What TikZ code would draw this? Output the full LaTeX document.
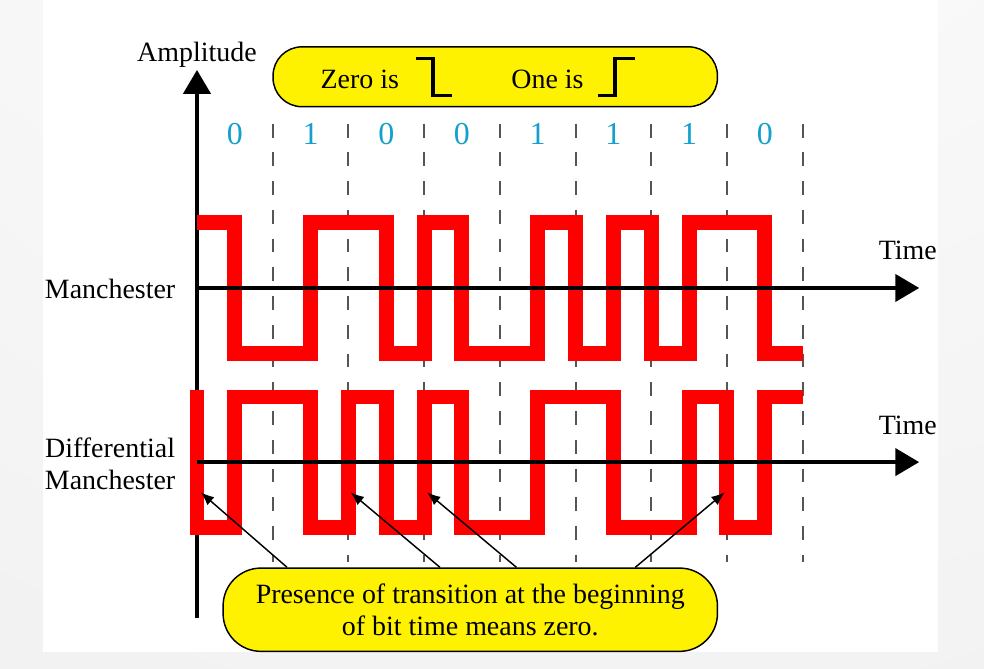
\documentclass[tikz,border=0pt]{standalone}
\usepackage{fontspec}
\setmainfont{Liberation Serif}
\usetikzlibrary{arrows.meta,calc}
\definecolor{bitblue}{RGB}{20,160,205}
\definecolor{dashgray}{RGB}{85,85,85}

\begin{document}
\begin{tikzpicture}[every node/.style={font=\fontsize{10.5}{12}\selectfont,inner sep=0pt},
 wave/.style={red,line width=5.6pt,line join=miter},
 axis/.style={line width=1.5pt,-{Triangle[length=9pt,width=10.2pt]}},
 bitline/.style={dashgray,line width=0.75pt,dash pattern=on 5.2pt off 5.6pt},
 bitlbl/.style={anchor=base,text=bitblue,font=\fontsize{12}{14}\selectfont},
 callout/.style={draw,line width=0.55pt,fill=yellow},
 edgesym/.style={line width=1.3pt,line join=miter},
 pointer/.style={line width=0.55pt,-{Latex[length=5pt,width=4pt]}}]
\useasboundingbox (-2.602,-5.020) rectangle (10.396,3.804);
\fill[inner color=white,outer color=gray!20] (-27,-22) rectangle (37,42);
\fill[white] (-2.034,-4.808) rectangle (9.789,3.804);
\foreach \x in {1,...,8}{
 \draw[bitline] (\x,2.17) -- (\x,-3.62);
}
\foreach \b [count=\i from 0] in {0,1,0,0,1,1,1,0}{
 \node[bitlbl] (bit\i) at (\i+0.5,1.89) {\b};
}
\draw[axis] (0,-4.36) -- (0,2.88);
\node[anchor=base] (amp) at (0,2.99) {Amplitude};
\draw[wave] (0,0.86) -| (0.5,-0.86) -| (1.5,0.86) -| (2.5,-0.86) -| (3,0.86) -| (3.5,-0.86)
 -| (4.5,0.86) -| (5,-0.86) -| (5.5,0.86) -| (6,-0.86) -| (6.5,0.86) -| (7.5,-0.86) -- (8,-0.86);
\draw[wave] (0,-1.35) -- (0,-3.16) -| (0.5,-1.44) -| (1.5,-3.16) -| (2,-1.44) -| (2.5,-3.16)
 -| (3,-1.44) -| (3.5,-3.16) -| (4.5,-1.44) -| (5.5,-3.16) -| (6.5,-1.44) -| (7,-3.16) -| (7.5,-1.44) -- (8,-1.44);
\draw[axis] (0,0) -- (9.54,0);
\draw[axis] (0,-2.3) -- (9.54,-2.3);
\node[anchor=base] (time1) at (9.39,0.38) {Time};
\node[anchor=base] (time2) at (9.39,-1.93) {Time};
\node[anchor=east] (man) at (-0.28,-0.01) {Manchester};
\node[anchor=east,align=center] (diff) at (-0.28,-2.32) {Differential\\Manchester};
\node[callout,minimum width=5.87cm,minimum height=0.79cm,rounded corners=0.38cm] (key) at (3.94,2.79) {};
\node[anchor=base] (zero) at (2.15,2.63) {Zero is};
\node[anchor=base] (one) at (4.63,2.63) {One is};
\draw[edgesym] (2.89,3.03) -- (3.12,3.03) -- (3.12,2.54) -- (3.37,2.54);
\draw[edgesym] (5.30,2.54) -- (5.52,2.54) -- (5.52,3.03) -- (5.79,3.03);
\node[callout,minimum width=6.53cm,minimum height=1.10cm,rounded corners=0.5cm,align=center] (note) at (3.61,-4.25)
 {Presence of transition at the beginning\\of bit time means zero.};
\foreach \x [count=\i] in {0.05,2.03,3.04,6.97}{
 \coordinate (tip\i) at (\x,-2.70);
}
\foreach \i/\t in {1/1.19,2/3.21,3/4.22,4/5.79}{
 \draw[pointer] (note.north -| \t,0) -- (tip\i);
}
\end{tikzpicture}
\end{document}
